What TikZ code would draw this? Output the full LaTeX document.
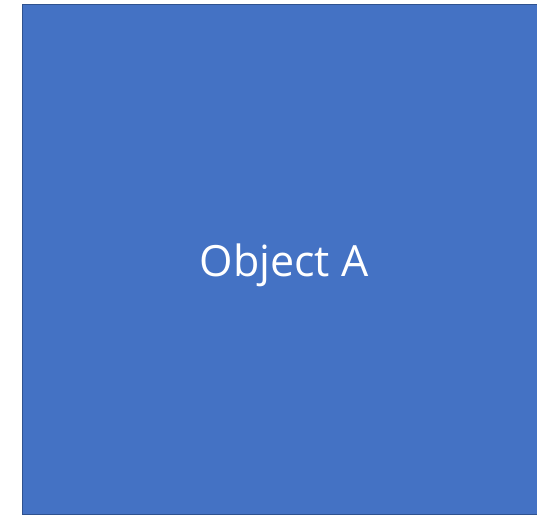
\documentclass[tikz,border=0pt]{standalone}
\usepackage{fontspec}
\setmainfont{Open Sans}
\usepackage{xcolor}
\definecolor{box-blue}{HTML}{4472C4}
\definecolor{box-edge}{HTML}{2F528F}

\begin{document}
\begin{tikzpicture}[x=1pt, y=-1pt]
    \useasboundingbox (0,0) rectangle (537,516);
    \clip (0,0) rectangle (537,516);
    \node[draw=box-edge, line width=1.3pt, fill=box-blue, anchor=north west,
          minimum width=520pt, minimum height=510pt, inner sep=0pt] (objA) at (22,4) {};
    \node[text=white, font=\fontsize{43}{52}\selectfont, anchor=base] (objAlabel) at (284,276) {Object A};
  \end{tikzpicture}
\end{document}
